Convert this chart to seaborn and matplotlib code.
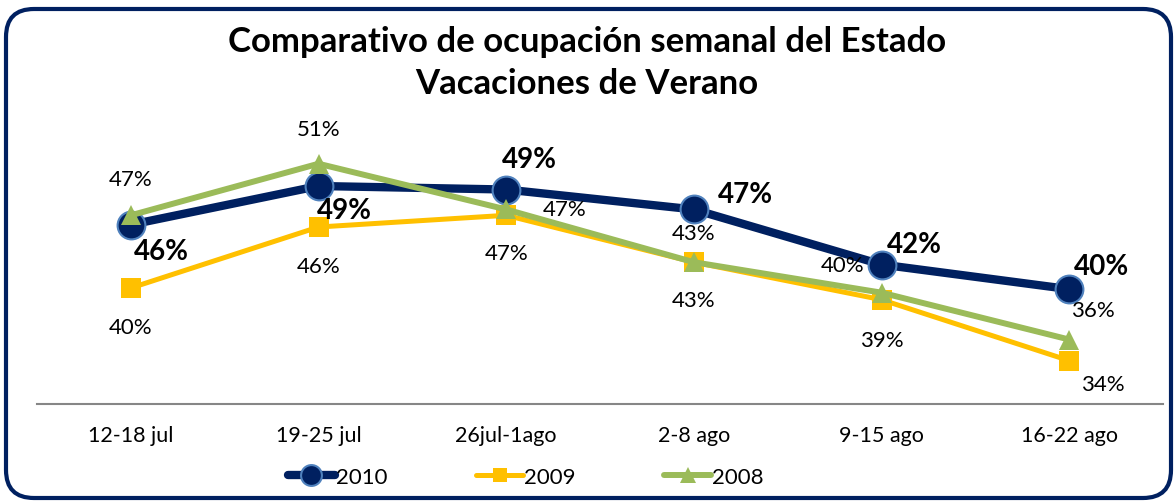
import matplotlib
matplotlib.use("Agg")
import matplotlib.pyplot as plt
from matplotlib.patches import FancyBboxPatch
import seaborn as sns

# datos
semanas = ['12-18 jul', '19-25 jul', '26jul-1ago', '2-8 ago', '9-15 ago', '16-22 ago']
ocup_2010 = [45.8, 49.1, 48.8, 47.1, 42.4, 40.3]
ocup_2009 = [40.4, 45.6, 46.6, 42.6, 39.4, 34.2]
ocup_2008 = [46.6, 51.0, 47.1, 42.6, 40.0, 36.0]

# desplazamiento de etiquetas (puntos)
off_2010 = [(22, -19), (19, -17), (17, 22), (37, 11), (24, 15), (23, 17)]
off_2009 = [(0, -28), (0, -28), (0, -27), (0, -27), (0, -29), (24, -17)]
off_2008 = [(0, 26), (0, 25), (42, 0), (0, 21), (-28, 20), (17, 21)]

sns.set_style("white")
plt.rcParams['font.family'] = ['Lato', 'DejaVu Sans']
plt.rcParams['text.color'] = 'black'
plt.rcParams['xtick.color'] = 'black'

fig = plt.figure(figsize=(11.74, 5.02), dpi=100)
ax = fig.add_axes([37/1174, 97/502, 1126/1174, 295/502])

x = list(range(len(semanas)))
series = [
    ('2010', ocup_2010, off_2010, dict(color='#002060', lw=6, marker='o', ms=20,
                                       mec='#4F81BD', mew=1.5), True),
    ('2009', ocup_2009, off_2009, dict(color='#FFC000', lw=3.6, marker='s', ms=14,
                                       mec='#FFC000', mew=0), False),
    ('2008', ocup_2008, off_2008, dict(color='#9BBB59', lw=4.3, marker='^', ms=15,
                                       mec='#9BBB59', mew=0), False),
]

for nombre, vals, offs, st, negrita in series:
    sns.lineplot(x=x, y=vals, ax=ax, label=nombre, color=st['color'], linewidth=st['lw'],
                 marker=st['marker'], markersize=st['ms'], markeredgecolor=st['mec'],
                 markeredgewidth=st['mew'])
    for xi, v, (dx, dy) in zip(x, vals, offs):
        ax.annotate(f"{round(v):d}%", (xi, v), xytext=(dx, dy), textcoords='offset points',
                    ha='center', va='center',
                    fontsize=20 if negrita else 16,
                    fontweight='bold' if negrita else 'normal', color='black')

ax.set_xlim(-0.5, 5.5)
ax.set_ylim(30.5, 55.67)
ax.set_xticks(x)
ax.set_xticklabels(semanas, fontsize=15.5)
ax.set_yticks([])
ax.tick_params(axis='x', length=0, pad=15)
for s in ['top', 'left', 'right']:
    ax.spines[s].set_visible(False)
ax.spines['bottom'].set_color('#868686')
ax.spines['bottom'].set_linewidth(1.5)
ax.set_xlabel('')
ax.set_ylabel('')

h, l = ax.get_legend_handles_labels()
ax.get_legend().remove()
fig.legend(h, l, loc='center', bbox_to_anchor=(526/1174, 1 - 478/502), ncol=3, frameon=False,
           fontsize=16, handlelength=2.1, columnspacing=4.0, handletextpad=0.05,
           markerscale=0.75)

fig.text(0.5, 1 - 42/502, 'Comparativo de ocupación semanal del Estado', ha='center',
         va='center', fontsize=25, fontweight='bold')
fig.text(0.5, 1 - 84/502, 'Vacaciones de Verano', ha='center', va='center',
         fontsize=25, fontweight='bold')

marco = FancyBboxPatch((0.06, 0.03), 11.65, 4.89, boxstyle='round,pad=0,rounding_size=0.28',
                       transform=fig.dpi_scale_trans, fill=False, edgecolor='#002060',
                       linewidth=3)
fig.patches.append(marco)

plt.savefig('out.png', dpi=100)
